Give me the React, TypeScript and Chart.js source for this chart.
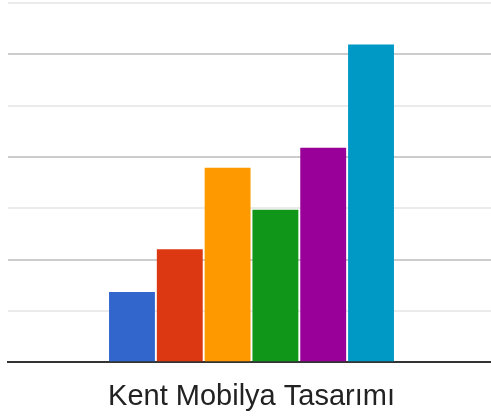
import React, { useEffect, useRef } from "react";
import { Chart, registerables } from "chart.js";

Chart.register(...registerables);

const categories = ["Kent Mobilya Tasarımı"];
const seriesNames = ["A", "B", "C", "D", "E", "F"];
const seriesValues = [1.37, 2.2, 3.79, 2.97, 4.18, 6.19];
const seriesColors = ["#3366cc", "#dc3912", "#ff9900", "#109618", "#990099", "#0099c6"];
const yMax = 7;

export default function App() {
  const ref = useRef<HTMLCanvasElement | null>(null);
  useEffect(() => {
    if (!ref.current) return;
    const chart = new Chart(ref.current, {
      type: "bar",
      data: {
        labels: categories,
        datasets: seriesNames.map((n, i) => ({
          label: n,
          data: [seriesValues[i]],
          backgroundColor: seriesColors[i],
          borderWidth: 0,
          categoryPercentage: 0.589,
          barPercentage: 0.96,
        })),
      },
      options: {
        responsive: false,
        animation: false,
        devicePixelRatio: 1,
        layout: { padding: { left: 8, top: 3, right: 0, bottom: -12 } },
        plugins: { legend: { display: false }, tooltip: { enabled: false } },
        scales: {
          x: {
            grid: { display: false, drawTicks: false },
            border: { display: true, color: "#333333", width: 2 },
            ticks: {
              padding: 17,
              color: "#222222",
              font: { family: "'Liberation Sans', Arial, sans-serif", size: 29 },
            },
          },
          y: {
            min: 0,
            max: yMax,
            ticks: { display: false, stepSize: 1 },
            border: { display: false },
            grid: {
              drawTicks: false,
              color: (ctx: any) => (ctx.tick && ctx.tick.value % 2 === 0 ? "#cccccc" : "#ebebeb"),
              lineWidth: 2,
            },
          },
        },
      },
    });
    return () => chart.destroy();
  }, []);
  return (
    <div style={{ position: "absolute", left: 0, top: 0, width: 491, height: 419, overflow: "hidden", background: "#fff" }}>
      <canvas ref={ref} width={495} height={419} style={{ display: "block" }} />
    </div>
  );
}
